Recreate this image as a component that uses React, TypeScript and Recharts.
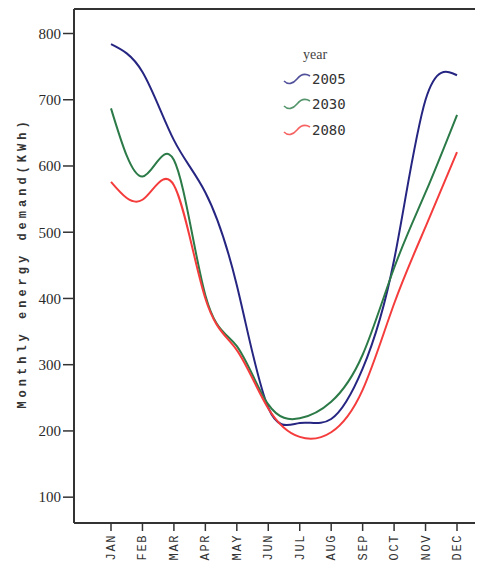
import React from 'react';
import { LineChart, Line, XAxis, YAxis, ReferenceLine, Legend } from 'recharts';

const months = ['JAN', 'FEB', 'MAR', 'APR', 'MAY', 'JUN', 'JUL', 'AUG', 'SEP', 'OCT', 'NOV', 'DEC'];
const s2005 = [784, 742, 639, 560, 420, 235, 212, 218, 294, 458, 700, 737];
const s2030 = [687, 584, 609, 405, 328, 240, 219, 244, 315, 446, 560, 677];
const s2080 = [576, 549, 571, 400, 322, 234, 191, 198, 262, 392, 508, 621];
const yTicks = [100, 200, 300, 400, 500, 600, 700, 800];
const seriesNames = ['2005', '2030', '2080'];
const colors = ['#262682', '#2b7a47', '#f53c3c'];

const data = months.map((m, i) => ({ month: m, y2005: s2005[i], y2030: s2030[i], y2080: s2080[i] }));

const XTick = (props: any) => {
  const { x, y, payload } = props;
  return (
    <text
      x={x + 1}
      y={y}
      transform={`rotate(-90 ${x + 1} ${y})`}
      textAnchor="end"
      dominantBaseline="central"
      fontFamily="Liberation Mono, monospace"
      fontSize={12}
      letterSpacing={1.6}
      fill="#333"
    >
      {payload.value}
    </text>
  );
};

const LegendContent = () => (
  <div style={{ fontFamily: 'DejaVu Sans Mono, monospace', color: '#333' }}>
    <div style={{ fontFamily: 'Liberation Serif, serif', fontSize: 14, color: '#444', marginLeft: 20, height: 22, lineHeight: '22px' }}>year</div>
    {seriesNames.map((n, i) => (
      <div key={n} style={{ display: 'flex', alignItems: 'center', height: 25.5 }}>
        <svg width={28} height={14} style={{ display: 'block' }}>
          <path d="M1,9 C5,13 10,12 14,7 C18,2 22,1 27,4" fill="none" stroke={colors[i]} strokeWidth={1.6} opacity={0.8} />
        </svg>
        <span style={{ fontSize: 14, marginLeft: 1 }}>{n}</span>
      </div>
    ))}
  </div>
);

export default function App() {
  return (
    <div style={{ position: 'relative', width: 475, height: 562 }}>
      <LineChart width={475} height={562} data={data} margin={{ top: 1, right: 0, bottom: 0, left: 0 }}>
        <XAxis
          dataKey="month"
          interval={0}
          height={47}
          padding={{ left: 37, right: 26 }}
          axisLine={{ stroke: '#333', strokeWidth: 2 }}
          tickLine={{ stroke: '#333', strokeWidth: 1.5 }}
          tickSize={8}
          tickMargin={3}
          tick={<XTick />}
        />
        <YAxis
          domain={[61, 837]}
          ticks={yTicks}
          width={66}
          interval={0}
          axisLine={{ stroke: '#333', strokeWidth: 2 }}
          tickLine={{ stroke: '#333', strokeWidth: 1.5 }}
          tickSize={11}
          tick={{ fontFamily: 'Liberation Serif, serif', fontSize: 15, fill: '#2a2a2a' }}
          allowDataOverflow
          label={{
            value: 'Monthly energy demand(KWh)',
            angle: -90,
            position: 'insideLeft',
            offset: 0,
            dx: 14,
            dy: -3,
            style: { fontFamily: 'Liberation Mono, monospace', fontSize: 12, fontWeight: 'bold', letterSpacing: 4, fill: '#333', textAnchor: 'middle' },
          }}
        />
        <ReferenceLine y={837} stroke="#333" strokeWidth={2} ifOverflow="visible" />
        <Legend
          layout="horizontal"
          verticalAlign="middle"
          align="center"
          content={<LegendContent />}
          wrapperStyle={{ top: 36, left: 275, width: 100, height: 100 }}
        />
        <Line type="natural" dataKey="y2005" stroke={colors[0]} strokeWidth={2} dot={false} isAnimationActive={false} />
        <Line type="natural" dataKey="y2030" stroke={colors[1]} strokeWidth={2} dot={false} isAnimationActive={false} />
        <Line type="natural" dataKey="y2080" stroke={colors[2]} strokeWidth={2} dot={false} isAnimationActive={false} />
      </LineChart>
    </div>
  );
}
